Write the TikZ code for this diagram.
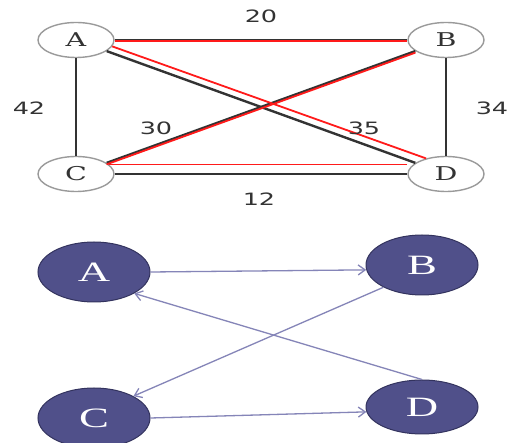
\documentclass[tikz,border=0pt]{standalone}
\usepackage{fontspec}
\setmainfont{DejaVu Serif}
\newfontfamily\numfont{DejaVu Sans}
\newfontfamily\timesfont{Liberation Serif}
\usetikzlibrary{shapes.geometric,arrows.meta}
\definecolor{roadgray}{HTML}{333333}
\definecolor{tourred}{HTML}{FF1A1A}
\definecolor{citygray}{HTML}{9A9A9A}
\definecolor{statefill}{HTML}{50508A}
\definecolor{stateborder}{HTML}{33335E}
\definecolor{movecolor}{HTML}{8585B8}
\newcommand{\xstretch}[2]{\scalebox{#1}[1]{#2}}

\begin{document}
\begin{tikzpicture}[x=1pt, y=-1pt,
    city/.style={ellipse, draw=citygray, line width=1.4pt, fill=white, minimum width=76pt, minimum height=35pt, inner sep=0pt, font=\fontsize{19}{19}\selectfont, text=roadgray},
    road/.style={draw=roadgray, line width=2.4pt},
    tour/.style={draw=tourred, line width=1.8pt},
    dist/.style={font=\numfont\fontsize{17}{17}\selectfont, text=roadgray},
    state/.style={ellipse, draw=stateborder, line width=1pt, fill=statefill, minimum width=112pt, minimum height=60pt, inner sep=0pt, text=white, font=\timesfont\fontsize{28}{28}\selectfont},
    move/.style={draw=movecolor, line width=1.3pt, -{Straight Barb[length=7pt,width=10pt]}}
  ]
  \clip (0,0) rectangle (517,443);
  \fill[white] (0,0) rectangle (517,443);

  % weighted graph
  \node[city] (A) at (76,40) {\xstretch{1.5}{A}};
  \node[city] (B) at (446,40) {\xstretch{1.5}{B}};
  \node[city] (C) at (76,174) {\xstretch{1.5}{C}};
  \node[city] (D) at (446,174) {\xstretch{1.5}{D}};

  \path[road] (A) -- (B);
  \path[road] (A) -- (C);
  \path[road] (B) -- (D);
  \path[road] (C) -- (D);
  \path[road] (A) -- (D);
  \path[road] (B) -- (C);

  % the tour A-B-C-D-A
  \path[tour] ([yshift=-1pt]A.east) -- ([yshift=-1pt]B.west);
  \path[tour] ([yshift=-1.5pt]B.200) -- ([yshift=-1.5pt]C.20);
  \path[tour] (C.16) -- (C.16 -| D.west);
  \path[tour] (D.142) -- (A.-10);

  \node[dist] (dab) at (261,16) {\xstretch{1.5}{20}};
  \node[dist] (dac) at (29,108) {\xstretch{1.5}{42}};
  \node[dist] (dbd) at (492,108) {\xstretch{1.5}{34}};
  \node[dist] (dbc) at (156,128) {\xstretch{1.5}{30}};
  \node[dist] (dad) at (364,128) {\xstretch{1.5}{35}};
  \node[dist] (dcd) at (259,199) {\xstretch{1.5}{12}};

  % directed cycle
  \node[state] (SA) at (94,272) {\xstretch{1.6}{A}};
  \node[state] (SB) at (422,265) {\xstretch{1.6}{B}};
  \node[state] (SC) at (94,418) {\xstretch{1.6}{C}};
  \node[state, minimum height=54pt] (SD) at (422,407) {\xstretch{1.6}{D}};

  \path[move] (SA.east) -- (SB.185);
  \path[move] (SB.210) -- (SC.29);
  \path[move] (SC.east) -- (SD.185);
  \path[move] (SD.north) -- (SA.-28);
\end{tikzpicture}
\end{document}
